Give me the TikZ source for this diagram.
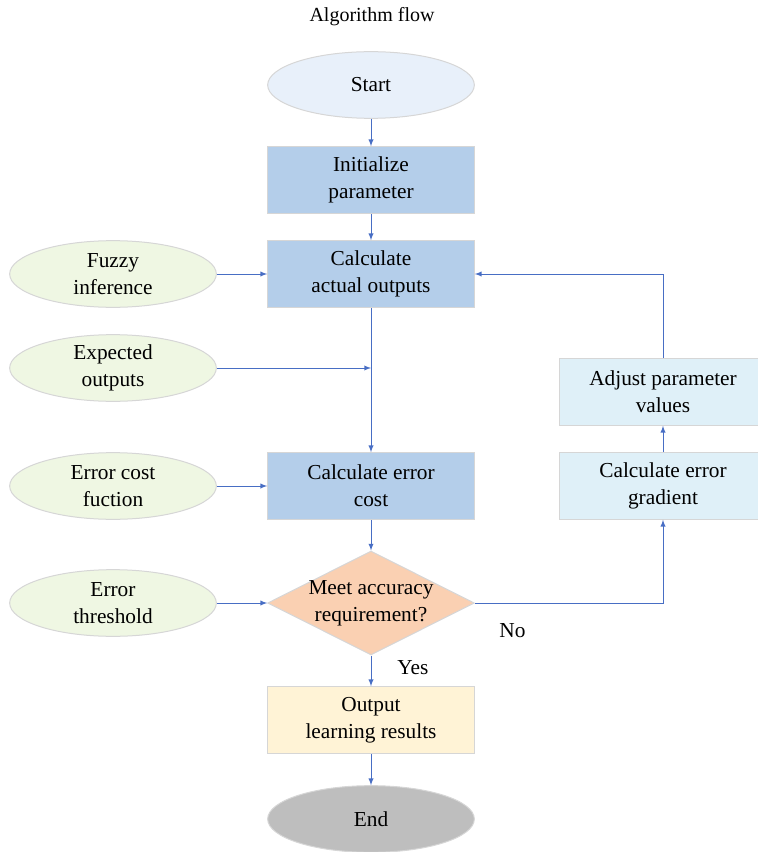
\documentclass[tikz,border=0pt]{standalone}
\usepackage{fontspec}
\setmainfont{Liberation Serif}
\usetikzlibrary{arrows,shapes.geometric}
\definecolor{startfill}{RGB}{232,240,250}
\definecolor{procfill}{RGB}{180,206,234}
\definecolor{inputfill}{RGB}{239,247,227}
\definecolor{loopfill}{RGB}{223,240,248}
\definecolor{decfill}{RGB}{250,208,178}
\definecolor{outfill}{RGB}{255,243,214}
\definecolor{endfill}{RGB}{190,190,190}
\definecolor{edge}{RGB}{214,214,214}
\definecolor{flow}{RGB}{72,110,196}
\tikzstyle{terminal} = [align=center,draw=edge,ellipse,line width=0.75pt,minimum width=155pt,minimum height=50pt,inner sep=0pt]
\tikzstyle{block} = [align=center,draw=edge,rectangle,line width=0.75pt,minimum width=155pt,minimum height=50pt,inner sep=0pt,fill=procfill]
\tikzstyle{input} = [terminal,fill=inputfill]
\tikzstyle{update} = [block,fill=loopfill]
\tikzstyle{test} = [align=center,draw=edge,diamond,aspect=2,line width=0.75pt,minimum width=155pt,minimum height=78pt,inner sep=-1.4pt,fill=decfill]
\tikzstyle{link} = [->,draw=flow,line width=0.75pt]

\begin{document}
\begin{tikzpicture}[>=latex,font=\fontsize{16}{20.25}\selectfont,node distance=71pt]
				\useasboundingbox (0,0) rectangle (567.75pt,-639pt);
				\node (title) at (279pt,-12.75pt) {\fontsize{15}{18}\selectfont Algorithm flow};
				\node (start) [terminal,fill=startfill] at (278.25pt,-63.75pt) {Start};
				\node (init) [block,below of=start,node distance=71.25pt] {Initialize\\parameter};
				\node (calc) [block,below of=init,node distance=70.5pt] {Calculate\\actual outputs};
				\node (cost) [block,below of=calc,node distance=159pt] {Calculate error\\cost};
				\node (meet) [test,below of=cost,node distance=87.75pt] {Meet accuracy\\requirement?};
				\node (res) [block,fill=outfill,below of=meet,node distance=87.75pt] {Output\\learning results};
				\node (end) [terminal,fill=endfill,below of=res,node distance=74.25pt] {End};
				\node (fuzzy) [input,left of=calc,node distance=193.5pt] {Fuzzy\\inference};
				\node (expect) [input,below of=fuzzy,node distance=70.5pt] {Expected\\outputs};
				\node (costfn) [input,left of=cost,node distance=193.5pt] {Error cost\\fuction};
				\node (thresh) [input,left of=meet,node distance=193.5pt] {Error\\threshold};
				\node (grad) [update,right of=cost,node distance=219pt] {Calculate error\\gradient};
				\node (adjust) [update,above of=grad,node distance=70.5pt] {Adjust parameter\\values};
				\coordinate (join) at (calc.south |- expect.east);
				\coordinate (turn) at (grad.south |- meet.east);
				\coordinate (back) at (adjust.north |- calc.east);
				\draw [link] (start) -- (init);
				\draw [link] (init) -- (calc);
				\draw [link] (calc) -- (cost);
				\draw [link] (cost) -- (meet);
				\draw [link] (meet) -- node [right,pos=0.4,xshift=16pt] {Yes} (res);
				\draw [link] (res) -- (end);
				\draw [link] (fuzzy) -- (calc);
				\draw [link] (expect.east) -- (join);
				\draw [link] (costfn) -- (cost);
				\draw [link] (thresh) -- (meet);
				\draw [link] (meet.east) -- node [below,pos=0.2,yshift=-12pt] {No} (turn) -- (grad.south);
				\draw [link] (grad) -- (adjust);
				\draw [link] (adjust.north) -- (back) -- (calc.east);
			\end{tikzpicture}
\end{document}
